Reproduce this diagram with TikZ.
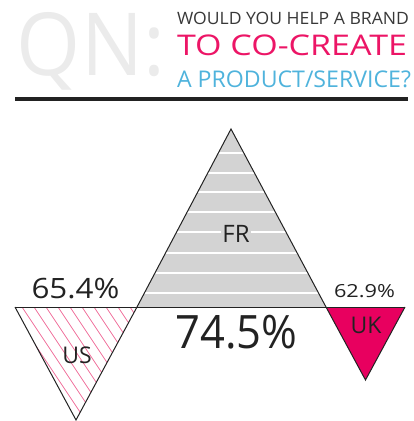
\documentclass[tikz,border=0pt]{standalone}
\usepackage{fontspec}
\usepackage{graphicx}
\setmainfont{Open Sans}
\definecolor{qngray}{HTML}{EBEBEB}
\definecolor{ink}{HTML}{222222}
\definecolor{mag}{HTML}{EC1566}
\definecolor{cyanq}{HTML}{4FB3DC}
\definecolor{frgray}{HTML}{D3D3D3}
\definecolor{ukmag}{HTML}{E8005F}
\definecolor{hatch}{HTML}{F06E9A}
\newcommand{\fsz}[1]{\fontsize{#1}{#1}\selectfont}
\newcommand{\wtext}[3]{\resizebox{#1pt}{\height}{\fsz{#2}#3}}
\tikzset{
  lbl/.style={inner sep=0pt, outer sep=0pt, text=ink},
  edge/.style={draw=ink, line width=1pt, line join=miter},
}
\begin{document}
\begin{tikzpicture}[x=1pt,y=-1pt]
\useasboundingbox (0,0) rectangle (414,421);
% header
\node[lbl, text=qngray, anchor=base west] (qn) at (17,75) {\wtext{148}{87}{QN:}};
\node[lbl, text=ink!90, anchor=base west] (q1) at (177,24.3) {\wtext{232}{17}{WOULD YOU HELP A BRAND}};
\node[lbl, text=mag, anchor=base west] (q2) at (177,55.5) {\wtext{230}{28.5}{TO CO-CREATE}};
\node[lbl, text=cyanq, anchor=base west] (q3) at (177,87.5) {\wtext{234}{23}{A PRODUCT/SERVICE?}};
\fill[ink] (15,97) rectangle (408,100.5);
% FR triangle
\coordinate (frl) at (137,307);
\coordinate (frr) at (326,307);
\coordinate (fra) at (231,129);
\fill[frgray] (frl) -- (fra) -- (frr) -- cycle;
\begin{scope}
\clip (frl) -- (fra) -- (frr) -- cycle;
\foreach \y in {153,173,192,212,232,253,273,293}
  \draw[white, line width=1.3pt] (130,\y) -- (330,\y);
\end{scope}
\draw[edge] (frl) -- (fra) -- (frr);
% US triangle
\coordinate (usl) at (15,307);
\coordinate (usr) at (137,307);
\coordinate (usa) at (76,420);
\begin{scope}
\clip (usl) -- (usr) -- (usa) -- cycle;
\foreach \k in {-4,...,14}
  \draw[hatch, line width=0.7pt] (10+12*\k,307) -- ++(100,150);
\end{scope}
\draw[edge] (usl) -- (usa) -- (usr);
% UK triangle
\coordinate (ukl) at (326,307);
\coordinate (ukr) at (405,307);
\coordinate (uka) at (365.5,380);
\fill[ukmag] (ukl) -- (ukr) -- (uka) -- cycle;
\draw[edge] (ukl) -- (uka) -- (ukr);
% base line
\draw[edge] (usl) -- (ukr);
% labels
\node[lbl, fill=frgray, inner sep=1pt] (fr) at (236,233.5) {\fsz{24}FR};
\node[lbl] (us) at (77,355) {\fsz{23}US};
\node[lbl] (uk) at (366,325) {\fsz{23}UK};
\node[lbl, anchor=base] (p65) at (75.5,298) {\wtext{88}{28}{65.4\%}};
\node[lbl, anchor=base] (p62) at (364.5,297.7) {\wtext{61}{18}{62.9\%}};
\node[lbl, anchor=base] (p74) at (236.5,348) {\wtext{122}{46}{74.5\%}};
\end{tikzpicture}
\end{document}
